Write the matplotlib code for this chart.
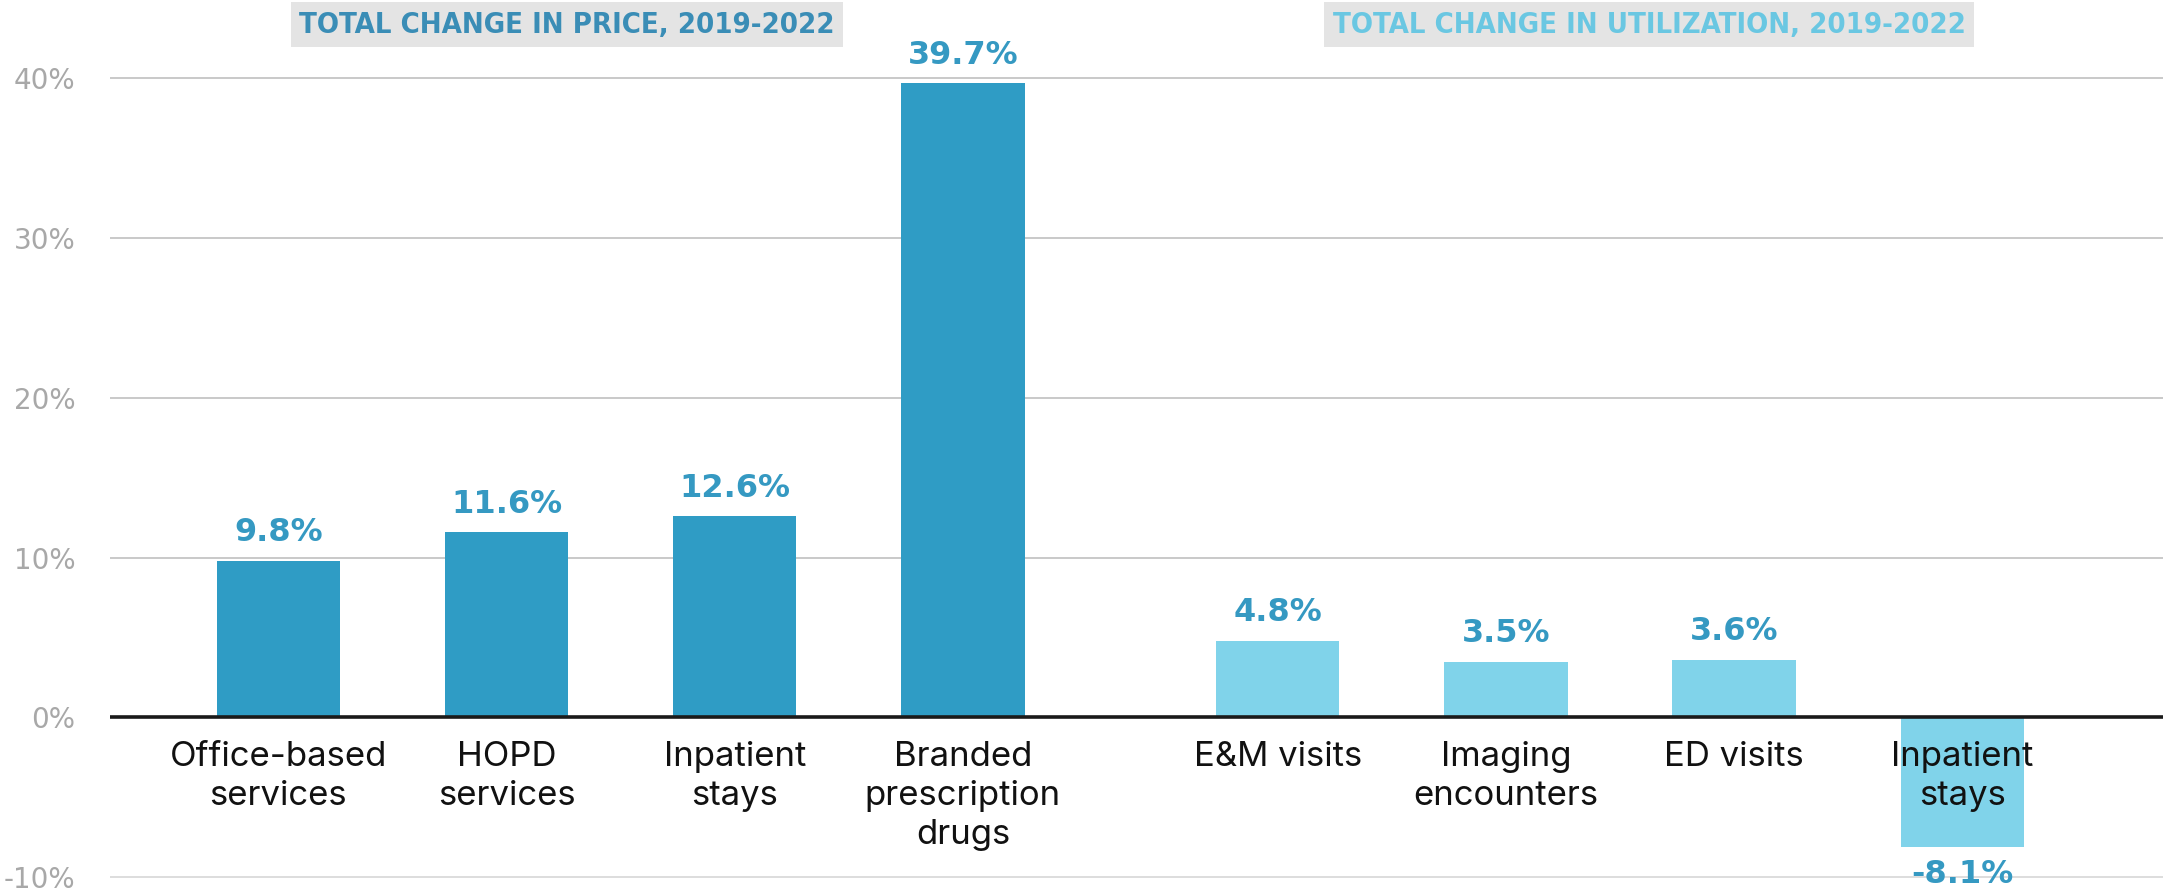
import numpy as np
import matplotlib.pyplot as plt

# price and utilization changes, 2019-2022 (percent)
price_labels = ['Office-based\nservices', 'HOPD\nservices', 'Inpatient\nstays',
                'Branded\nprescription\ndrugs']
price_values = [9.8, 11.6, 12.6, 39.7]
util_labels = ['E&M visits', 'Imaging\nencounters', 'ED visits', 'Inpatient\nstays']
util_values = [4.8, 3.5, 3.6, -8.1]
yticks = [-10, 0, 10, 20, 30, 40]

dark = '#2f9cc5'
light = '#80d3ea'
label_col = '#3599c2'

fig = plt.figure(figsize=(21.63, 8.94), dpi=100)
ax = fig.add_axes([0.0509, 0, 0.9491, 1])

x_price = np.arange(len(price_values))
x_util = np.arange(len(util_values)) + len(price_values) + 0.38
w = 0.54

ax.bar(x_price, price_values, width=w, color=dark, zorder=2)
ax.bar(x_util, util_values, width=w, color=light, zorder=2)

for xs, vals in ((x_price, price_values), (x_util, util_values)):
    for x, v in zip(xs, vals):
        off = 9 if v >= 0 else -9
        ax.annotate(f'{v:.1f}%', (x, v), xytext=(0, off), textcoords='offset points',
                    ha='center', va='bottom' if v >= 0 else 'top',
                    fontsize=23, fontweight='bold', family='DejaVu Sans',
                    color=label_col, zorder=4)

for xs, labs in ((x_price, price_labels), (x_util, util_labels)):
    for x, t in zip(xs, labs):
        ax.annotate(t, (x, 0), xytext=(0, -17), textcoords='offset points',
                    ha='center', va='top', fontsize=25, family='Inter',
                    color='#111111', linespacing=1.27, zorder=4)

# section headers
hdr = dict(fontsize=21, fontweight='bold', fontstretch='condensed',
           family='DejaVu Sans', ha='center', va='center', zorder=5)
ax.text(1.264, 43.35, 'TOTAL CHANGE IN PRICE, 2019-2022', color='#3a8db6',
        bbox=dict(facecolor='#e4e4e4', edgecolor='none', pad=6), **hdr)
ax.text(6.007, 43.35, 'TOTAL CHANGE IN UTILIZATION, 2019-2022', color='#6ac7e2',
        bbox=dict(facecolor='#e4e4e4', edgecolor='none', pad=6), **hdr)

ax.set_xlim(-0.738, 8.26)
ax.set_ylim(-11.05, 44.9)
for y in yticks:
    if y == 0:
        ax.axhline(0, color='#1a1a1a', lw=2.6, zorder=3)
    else:
        ax.axhline(y, color='#c9c9c9' if y > 0 else '#dddddd', lw=1.4, zorder=1)

ax.set_yticks(yticks)
ax.set_yticklabels([f'{y}%' for y in yticks], fontsize=20, family='DejaVu Sans',
                   color='#a8a8a8')
ax.tick_params(axis='y', length=0, pad=25)
ax.set_xticks([])
for s in ax.spines.values():
    s.set_visible(False)

fig.savefig('out.png', dpi=100, facecolor='white')
